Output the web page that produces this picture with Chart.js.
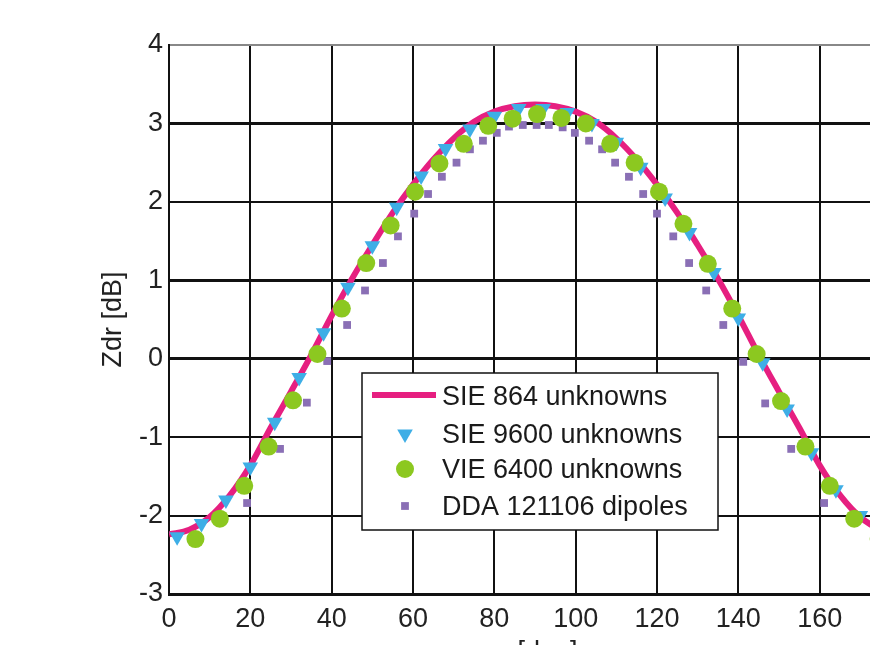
<!DOCTYPE html>
<html>
<head>
<meta charset="utf-8">
<script src="https://cdn.jsdelivr.net/npm/chart.js@4.4.1/dist/chart.umd.min.js"></script>
<style>
  html, body { margin: 0; padding: 0; background: #fff; }
  #wrap { width: 870px; height: 645px; overflow: hidden; position: relative; }
  canvas { display: block; }
</style>
</head>
<body>
<div id="wrap"><canvas id="zdr" width="940" height="680"></canvas></div>
<script>
// Zdr versus angle
const sie864Deg = [0,5,10,15,20,25,30,35,40,45,50,55,60,65,70,75,80,85,90,95,100,105,110,115,120,125,130,135,140,145,150,155,160,165,170,175,180];
const sie864Zdr = [-2.24,-2.18,-2.02,-1.74,-1.36,-0.88,-0.42,0.05,0.55,1.02,1.45,1.86,2.22,2.54,2.81,3.02,3.15,3.22,3.24,3.22,3.15,3.02,2.81,2.54,2.22,1.86,1.45,1.02,0.55,0.05,-0.42,-0.88,-1.36,-1.74,-2.02,-2.18,-2.24];

const sie9600Deg = [2,8,14,20,26,32,38,44,50,56,62,68,74,80,86,92,98,104,110,116,122,128,134,140,146,152,158,164,170,176];
const sie9600Zdr = [-2.27,-2.10,-1.80,-1.38,-0.81,-0.24,0.33,0.91,1.44,1.93,2.33,2.68,2.93,3.09,3.19,3.19,3.14,3.00,2.76,2.44,2.05,1.61,1.10,0.52,-0.05,-0.64,-1.20,-1.67,-2.00,-2.20];

const vie6400Deg = [6.5,12.5,18.5,24.5,30.5,36.5,42.5,48.5,54.5,60.5,66.5,72.5,78.5,84.5,90.5,96.5,102.5,108.5,114.5,120.5,126.5,132.5,138.5,144.5,150.5,156.5,162.5,168.5,174.5];
const vie6400Zdr = [-2.30,-2.04,-1.62,-1.12,-0.53,0.06,0.64,1.22,1.70,2.13,2.49,2.74,2.97,3.06,3.12,3.07,3.00,2.74,2.50,2.13,1.72,1.21,0.64,0.06,-0.54,-1.12,-1.62,-2.04,-2.30];

const ddaDeg = [19.2,27.3,33.9,38.9,43.8,48.2,52.6,56.3,60.3,63.7,67.1,70.7,74.0,77.2,80.6,83.6,87.0,90.4,93.4,96.8,99.8,103.3,106.5,109.7,113.1,116.6,120.0,124.0,127.9,132.1,136.3,141.2,146.6,153.0,161.1];
const ddaZdr = [-1.84,-1.15,-0.56,-0.03,0.43,0.87,1.22,1.56,1.85,2.10,2.32,2.50,2.67,2.78,2.88,2.96,2.98,2.98,2.98,2.95,2.88,2.78,2.67,2.50,2.32,2.10,1.85,1.56,1.22,0.87,0.43,-0.04,-0.57,-1.15,-1.84];

const xTicks = [0,20,40,60,80,100,120,140,160,180];
const yTicks = [-3,-2,-1,0,1,2,3,4];
const thickRows = [3,1,0];

const toXY = (xs, ys) => xs.map((x, i) => ({x: x, y: ys[i]}));

const PINK = '#e61f80';
const BLUE = '#3eaee6';
const GREEN = '#8cc820';
const PURPLE = '#8a6fb5';
const FONT = '"Liberation Sans", Arial, sans-serif';

// legend drawn inside the plot, like the figure
const boxLegend = {
  id: 'boxLegend',
  afterDraw(chart) {
    const ctx = chart.ctx;
    const h = Chart.helpers;
    const x0 = 362, y0 = 373, w = 356, hgt = 157;
    const rows = [398, 436, 471, 508];
    ctx.save();
    ctx.fillStyle = '#fff';
    ctx.fillRect(x0, y0, w, hgt);
    ctx.strokeStyle = '#111';
    ctx.lineWidth = 1.5;
    ctx.strokeRect(x0, y0, w, hgt);
    ctx.font = '27px ' + FONT;
    ctx.textBaseline = 'middle';
    chart.data.datasets.forEach((ds, i) => {
      const y = rows[i];
      if (ds.type === 'line' && ds.showLine !== false) {
        ctx.strokeStyle = ds.borderColor;
        ctx.lineWidth = ds.borderWidth;
        ctx.beginPath();
        ctx.moveTo(372, y - 3);
        ctx.lineTo(436, y - 3);
        ctx.stroke();
      } else {
        ctx.fillStyle = ds.pointBackgroundColor;
        ctx.strokeStyle = ds.pointBackgroundColor;
        h.drawPoint(ctx, {pointStyle: ds.pointStyle, rotation: ds.pointRotation || 0,
          radius: ds.pointRadius, borderWidth: 0}, 405, y - 2);
      }
      ctx.fillStyle = '#1a1a1a';
      ctx.fillText(ds.label, 442, y);
    });
    ctx.restore();
  }
};

const ctx = document.getElementById('zdr').getContext('2d');
const zdrChart = new Chart(ctx, {
  type: 'line',
  data: {
    datasets: [
      {
        label: 'SIE 864 unknowns',
        type: 'line',
        data: toXY(sie864Deg, sie864Zdr),
        borderColor: PINK,
        borderWidth: 6,
        pointRadius: 0,
        cubicInterpolationMode: 'monotone',
        order: 2
      },
      {
        label: 'SIE 9600 unknowns',
        type: 'line',
        showLine: false,
        data: toXY(sie9600Deg, sie9600Zdr),
        pointStyle: 'triangle',
        pointRotation: 180,
        pointRadius: 9,
        pointBackgroundColor: BLUE,
        pointBorderWidth: 0,
        order: 1
      },
      {
        label: 'VIE 6400 unknowns',
        type: 'line',
        showLine: false,
        data: toXY(vie6400Deg, vie6400Zdr),
        pointStyle: 'circle',
        pointRadius: 9,
        pointBackgroundColor: GREEN,
        pointBorderWidth: 0,
        order: 0
      },
      {
        label: 'DDA 121106 dipoles',
        type: 'line',
        showLine: false,
        data: toXY(ddaDeg, ddaZdr),
        pointStyle: 'rect',
        pointRadius: 5.5,
        pointBackgroundColor: PURPLE,
        pointBorderWidth: 0,
        order: 3
      }
    ]
  },
  options: {
    responsive: false,
    animation: false,
    layout: { padding: { left: 0, top: 45, right: 39, bottom: 0 } },
    plugins: {
      legend: { display: false },
      tooltip: { enabled: false }
    },
    scales: {
      x: {
        type: 'linear',
        min: 0,
        max: 180,
        afterBuildTicks: s => { s.ticks = xTicks.map(v => ({value: v})); },
        afterFit: s => { s.height = 86; },
        ticks: { color: '#222', font: { family: FONT, size: 27 }, padding: 9, maxRotation: 0 },
        grid: {
          color: '#111',
          lineWidth: 2,
          drawTicks: false
        },
        border: { color: '#111', width: 3 },
        title: {
          display: true,
          text: 'φ [deg]',
          color: '#222',
          font: { family: FONT, size: 27 },
          padding: { bottom: 11 }
        }
      },
      y: {
        min: -3,
        max: 4,
        afterBuildTicks: s => { s.ticks = yTicks.map(v => ({value: v})); },
        afterFit: s => { s.width = 169; },
        ticks: { color: '#222', font: { family: FONT, size: 27 }, padding: 6 },
        grid: {
          color: c => (c.tick && c.tick.value === 4) ? '#888' : '#111',
          lineWidth: c => (c.tick && thickRows.includes(c.tick.value)) ? 3 : 2,
          drawTicks: false
        },
        border: { color: '#111', width: 2 },
        title: {
          display: true,
          text: 'Zdr [dB]',
          color: '#222',
          font: { family: FONT, size: 27 },
          padding: { top: 97 }
        }
      }
    }
  },
  plugins: [boxLegend]
});
</script>
</body>
</html>
